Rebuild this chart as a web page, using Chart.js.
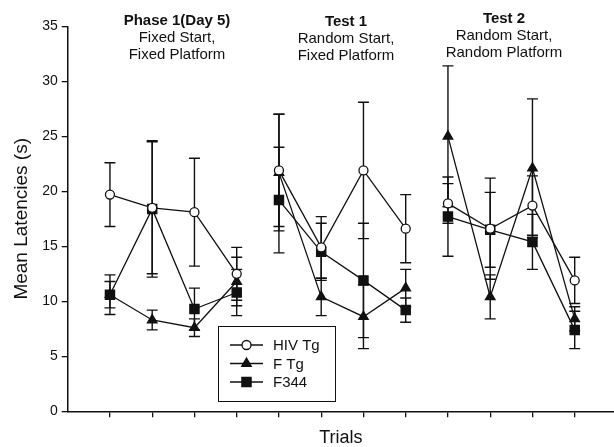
<!DOCTYPE html>
<html>
<head>
<meta charset="utf-8">
<script src="https://cdn.jsdelivr.net/npm/chart.js@4/dist/chart.umd.min.js"></script>
<style>
  html, body { margin: 0; padding: 0; background: #fff; overflow: hidden; }
</style>
</head>
<body>
<canvas id="latencyChart" width="614" height="447"></canvas>
<script>
// trials 1-4: phase 1, 5-8: test 1, 9-12: test 2
const trials = [1, 2, 3, 4, 5, 6, 7, 8, 9, 10, 11, 12];
const phaseEnds = [4, 8];

const hivTg    = [19.7, 18.5, 18.1, 12.5, 21.9, 14.9, 21.9, 16.6, 18.9, 16.6, 18.7, 11.9];
const hivTgErr = [2.9, 6.0, 4.9, 2.4, 5.1, 2.8, 6.2, 3.1, 1.8, 4.6, 2.7, 2.1];
const fTg      = [10.6, 8.3, 7.6, 11.8, 21.7, 10.4, 8.6, 11.2, 25.0, 10.4, 22.1, 8.4];
const fTgErr   = [1.2, 0.9, 0.8, 2.2, 5.3, 1.7, 2.9, 1.7, 6.4, 2.0, 6.3, 1.1];
const f344     = [10.6, 18.4, 9.3, 10.8, 19.2, 14.5, 11.9, 9.2, 17.7, 16.5, 15.4, 7.4];
const f344Err  = [1.8, 6.2, 1.9, 2.1, 4.8, 2.6, 5.2, 1.1, 3.6, 3.4, 2.5, 1.7];

const headings = [
  ['Phase 1(Day 5)', 'Fixed Start,', 'Fixed Platform'],
  ['Test 1', 'Random Start,', 'Fixed Platform'],
  ['Test 2', 'Random Start,', 'Random Platform']
];

const ink = '#111';
const family = "'Liberation Sans', Arial, sans-serif";

function series(label, values, errors, style, radius, fill) {
  return {
    label,
    data: trials.map((t, i) => ({ x: t, y: values[i] })),
    errors,
    borderColor: ink,
    borderWidth: 1.3,
    pointStyle: style,
    pointRadius: radius,
    pointBorderWidth: 1.3,
    pointBorderColor: ink,
    pointBackgroundColor: fill,
    backgroundColor: fill,
    tension: 0,
    segment: {
      // no line between the three test phases
      borderColor: ctx => phaseEnds.includes(ctx.p0.parsed.x) ? 'rgba(0,0,0,0)' : ink
    }
  };
}

const errorBars = {
  id: 'errorBars',
  beforeDatasetsDraw(chart) {
    const { ctx, scales: { x, y } } = chart;
    ctx.save();
    ctx.strokeStyle = ink;
    ctx.lineWidth = 1.4;
    chart.data.datasets.forEach(ds => {
      ds.data.forEach((p, i) => {
        const e = ds.errors[i];
        const px = x.getPixelForValue(p.x);
        const top = y.getPixelForValue(p.y + e);
        const bot = y.getPixelForValue(p.y - e);
        ctx.beginPath();
        ctx.moveTo(px, top); ctx.lineTo(px, bot);
        ctx.moveTo(px - 5.5, top); ctx.lineTo(px + 5.5, top);
        ctx.moveTo(px - 5.5, bot); ctx.lineTo(px + 5.5, bot);
        ctx.stroke();
      });
    });
    ctx.restore();
  }
};

const phaseTitles = {
  id: 'phaseTitles',
  afterDraw(chart) {
    const ctx = chart.ctx;
    const spots = [[177, 21], [346, 21.5], [504, 19]];
    ctx.save();
    ctx.fillStyle = ink;
    ctx.textAlign = 'center';
    ctx.textBaseline = 'middle';
    headings.forEach((lines, k) => {
      const [cx, cy] = spots[k];
      lines.forEach((txt, j) => {
        ctx.font = (j === 0 ? 'bold ' : '') + '15px ' + family;
        ctx.fillText(txt, cx, cy + j * 17);
      });
    });
    ctx.restore();
  }
};

const boxLegend = {
  id: 'boxLegend',
  afterDraw(chart) {
    const ctx = chart.ctx;
    ctx.save();
    ctx.strokeStyle = ink;
    ctx.lineWidth = 1;
    ctx.strokeRect(218.5, 326.5, 117, 75);
    ctx.font = '15px ' + family;
    ctx.textBaseline = 'middle';
    ctx.textAlign = 'left';
    chart.data.datasets.forEach((ds, i) => {
      const yy = 345 + i * 18.5;
      ctx.strokeStyle = ink;
      ctx.lineWidth = 1.3;
      ctx.beginPath();
      ctx.moveTo(230, yy); ctx.lineTo(263, yy);
      ctx.stroke();
      ctx.fillStyle = ds.pointBackgroundColor;
      Chart.helpers.drawPoint(ctx, {
        pointStyle: ds.pointStyle, radius: ds.pointRadius,
        borderWidth: ds.pointBorderWidth, rotation: 0
      }, 246.5, yy);
      ctx.fillStyle = ink;
      ctx.fillText(ds.label, 273, yy + 1);
    });
    ctx.restore();
  }
};

new Chart(document.getElementById('latencyChart'), {
  type: 'line',
  data: {
    datasets: [
      series('HIV Tg', hivTg, hivTgErr, 'circle', 4.5, '#fff'),
      series('F Tg', fTg, fTgErr, 'triangle', 5.5, ink),
      series('F344', f344, f344Err, 'rect', 6.5, ink)
    ]
  },
  options: {
    responsive: false,
    animation: false,
    layout: { autoPadding: false, padding: { top: 26.3, left: 0, right: 0, bottom: 0 } },
    plugins: {
      legend: { display: false },
      tooltip: { enabled: false }
    },
    scales: {
      x: {
        type: 'linear',
        min: 0,
        max: 12.93,
        afterBuildTicks: s => { s.ticks = trials.map(v => ({ value: v })); },
        afterFit: s => { s.height = 35.7; },
        grid: { drawOnChartArea: false, drawTicks: true, tickLength: 6, color: ink, lineWidth: 1.3 },
        border: { color: ink, width: 1.5 },
        ticks: { display: false },
        title: {
          display: true, text: 'Trials', color: ink,
          font: { family, size: 18, lineHeight: 1 }, padding: { top: 0, bottom: 0 }
        }
      },
      y: {
        min: 0,
        max: 35,
        afterFit: s => { s.width = 67.7; },
        ticks: { stepSize: 5, color: ink, font: { family, size: 14 }, padding: 4 },
        grid: { drawOnChartArea: false, drawTicks: true, tickLength: 6, color: ink, lineWidth: 1.3 },
        border: { color: ink, width: 1.5 },
        title: {
          display: true, text: 'Mean Latencies (s)', color: ink,
          font: { family, size: 19, lineHeight: 1 }, padding: { top: 12, bottom: 0 }
        }
      }
    }
  },
  plugins: [errorBars, phaseTitles, boxLegend]
});
</script>
</body>
</html>
